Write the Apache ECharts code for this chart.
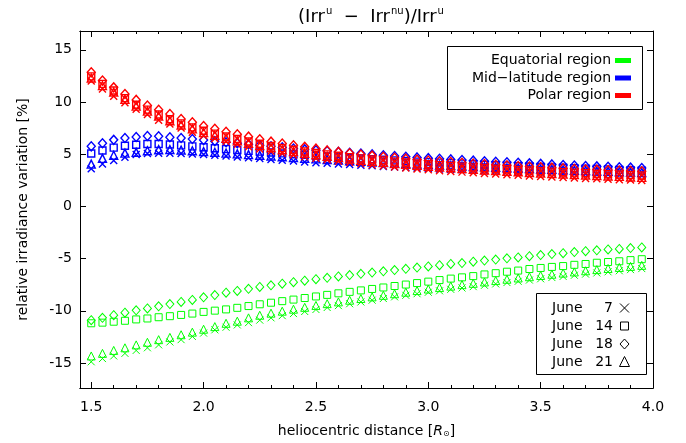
<!DOCTYPE html>
<html><head><meta charset="utf-8">
<script src="https://cdn.jsdelivr.net/npm/echarts@6/dist/echarts.min.js"></script>
<style>html,body{margin:0;padding:0;background:#fff}#c{width:686px;height:443px}</style>
</head><body><div id="c"></div>
<script>
// heliocentric distance [R_sun]
const xs = [1.50,1.55,1.60,1.65,1.70,1.75,1.80,1.85,1.90,1.95,2.00,2.05,2.10,2.15,2.20,2.25,2.30,2.35,2.40,2.45,2.50,2.55,2.60,2.65,2.70,2.75,2.80,2.85,2.90,2.95,3.00,3.05,3.10,3.15,3.20,3.25,3.30,3.35,3.40,3.45,3.50,3.55,3.60,3.65,3.70,3.75,3.80,3.85,3.90,3.95];

// Equatorial region (green)
const eqJun07 = [-14.89,-14.58,-14.33,-14.08,-13.80,-13.55,-13.27,-12.99,-12.77,-12.46,-12.14,-11.83,-11.58,-11.36,-11.14,-10.90,-10.68,-10.47,-10.27,-10.07,-9.88,-9.69,-9.51,-9.33,-9.16,-8.99,-8.83,-8.67,-8.52,-8.37,-8.23,-8.09,-7.95,-7.82,-7.69,-7.56,-7.43,-7.30,-7.18,-7.06,-6.94,-6.82,-6.71,-6.60,-6.49,-6.38,-6.27,-6.17,-6.06,-5.96];
const eqJun14 = [-11.20,-11.14,-11.05,-10.96,-10.83,-10.74,-10.62,-10.52,-10.40,-10.27,-10.11,-9.99,-9.87,-9.72,-9.55,-9.38,-9.23,-9.08,-8.93,-8.78,-8.63,-8.48,-8.33,-8.19,-8.05,-7.91,-7.77,-7.63,-7.49,-7.35,-7.21,-7.06,-6.92,-6.80,-6.68,-6.52,-6.40,-6.26,-6.15,-6.00,-5.90,-5.80,-5.72,-5.60,-5.52,-5.40,-5.33,-5.26,-5.15,-5.06];
const eqJun18 = [-10.90,-10.68,-10.43,-10.18,-9.96,-9.78,-9.58,-9.36,-9.15,-8.96,-8.71,-8.50,-8.27,-8.10,-7.90,-7.72,-7.56,-7.41,-7.26,-7.12,-6.98,-6.84,-6.71,-6.58,-6.46,-6.34,-6.22,-6.10,-5.98,-5.86,-5.75,-5.64,-5.52,-5.43,-5.30,-5.19,-5.09,-4.98,-4.89,-4.77,-4.67,-4.57,-4.49,-4.38,-4.29,-4.21,-4.13,-4.08,-4.00,-3.93];
const eqJun21 = [-14.33,-14.08,-13.80,-13.55,-13.27,-13.02,-12.77,-12.55,-12.30,-12.05,-11.77,-11.52,-11.20,-11.00,-10.68,-10.43,-10.23,-10.04,-9.85,-9.67,-9.49,-9.32,-9.15,-8.99,-8.83,-8.67,-8.52,-8.37,-8.22,-8.07,-7.92,-7.78,-7.64,-7.50,-7.37,-7.24,-7.11,-6.98,-6.86,-6.74,-6.62,-6.50,-6.39,-6.28,-6.17,-6.06,-5.95,-5.85,-5.75,-5.65];

// Mid-latitude region (blue)
const midJun07 = [3.60,4.05,4.40,4.70,4.98,5.07,5.10,5.10,5.07,5.02,4.98,4.90,4.82,4.74,4.66,4.58,4.50,4.42,4.34,4.26,4.19,4.12,4.06,4.00,3.94,3.88,3.83,3.78,3.73,3.68,3.63,3.58,3.54,3.50,3.46,3.42,3.38,3.34,3.30,3.26,3.22,3.19,3.16,3.13,3.10,3.07,3.04,3.01,2.98,2.95];
const midJun14 = [5.07,5.35,5.63,5.80,5.90,5.98,5.97,5.92,5.84,5.75,5.66,5.57,5.48,5.40,5.32,5.24,5.16,5.08,5.00,4.93,4.86,4.79,4.72,4.65,4.59,4.53,4.47,4.41,4.35,4.29,4.24,4.19,4.14,4.09,4.04,3.99,3.94,3.90,3.86,3.82,3.78,3.74,3.70,3.66,3.62,3.58,3.54,3.50,3.46,3.42];
const midJun18 = [5.75,6.05,6.37,6.55,6.65,6.74,6.72,6.62,6.55,6.45,6.35,6.25,6.15,6.05,5.95,5.85,5.75,5.65,5.55,5.46,5.38,5.30,5.22,5.14,5.06,4.98,4.90,4.83,4.76,4.69,4.62,4.56,4.50,4.44,4.38,4.32,4.27,4.22,4.17,4.12,4.07,4.02,3.97,3.92,3.87,3.83,3.79,3.75,3.71,3.67];
const midJun21 = [4.05,4.60,4.90,5.10,5.17,5.33,5.43,5.44,5.40,5.33,5.25,5.18,5.10,5.03,4.96,4.89,4.82,4.75,4.68,4.61,4.55,4.49,4.43,4.37,4.31,4.25,4.20,4.15,4.10,4.05,4.00,3.95,3.90,3.86,3.82,3.78,3.74,3.70,3.66,3.62,3.58,3.54,3.50,3.46,3.42,3.38,3.35,3.32,3.28,3.25];

// Polar region (red)
const polJun07 = [12.00,11.25,10.55,9.93,9.30,8.80,8.26,7.88,7.50,7.10,6.80,6.50,6.22,5.96,5.72,5.50,5.29,5.10,4.92,4.76,4.61,4.46,4.33,4.20,4.08,3.97,3.86,3.76,3.67,3.58,3.50,3.42,3.35,3.28,3.21,3.15,3.09,3.03,2.97,2.92,2.87,2.82,2.77,2.72,2.68,2.64,2.60,2.56,2.52,2.48];
const polJun14 = [12.45,11.73,11.10,10.37,9.73,9.27,8.80,8.35,7.95,7.57,7.25,6.97,6.70,6.45,6.22,6.00,5.79,5.60,5.43,5.27,5.12,4.98,4.85,4.72,4.60,4.49,4.39,4.29,4.20,4.11,4.03,3.95,3.88,3.81,3.74,3.67,3.61,3.55,3.49,3.43,3.38,3.33,3.28,3.23,3.18,3.13,3.09,3.05,3.00,2.96];
const polJun18 = [12.84,12.05,11.40,10.77,10.20,9.67,9.25,8.84,8.37,8.05,7.70,7.44,7.15,6.90,6.68,6.43,6.20,6.02,5.86,5.70,5.53,5.36,5.22,5.09,4.97,4.86,4.76,4.66,4.57,4.48,4.40,4.32,4.25,4.18,4.11,4.05,3.99,3.93,3.87,3.81,3.76,3.71,3.66,3.61,3.56,3.52,3.48,3.44,3.40,3.36];
const polJun21 = [12.30,11.57,10.95,10.25,9.60,9.12,8.65,8.20,7.80,7.42,7.08,6.80,6.53,6.28,6.05,5.83,5.62,5.43,5.25,5.09,4.94,4.80,4.67,4.54,4.42,4.31,4.21,4.11,4.02,3.93,3.85,3.77,3.70,3.63,3.56,3.49,3.43,3.37,3.31,3.25,3.20,3.15,3.10,3.05,3.00,2.95,2.91,2.87,2.82,2.78];

const xMajorTicks = [1.5,2.0,2.5,3.0,3.5,4.0];
const xMinorTicks = [1.5,1.6,1.7,1.8,1.9,2.0,2.1,2.2,2.3,2.4,2.5,2.6,2.7,2.8,2.9,3.0,3.1,3.2,3.3,3.4,3.5,3.6,3.7,3.8,3.9,4.0];
const yTicks = [-15,-10,-5,0,5,10,15];

const regionNames = ['Equatorial region','Mid\u2212latitude region','Polar region'];
const regionColors = ['#00ff00','#0000ff','#ff0000'];
const regionLineWidths = [1,1.4,1.4];
const dateNums = ['7','14','18','21'];

const FONT = 'DejaVu Sans';
const CROSS = 'path://M0,0L10,10M10,0L0,10';
const dateSymbols = [CROSS,'rect','diamond','triangle'];
const dateSizes = [[7,7],[7,7],[8,9],[8,8]];

const groups = [
  [eqJun07,eqJun14,eqJun18,eqJun21],
  [midJun07,midJun14,midJun18,midJun21],
  [polJun07,polJun14,polJun18,polJun21]
];

const series = [];
groups.forEach((g,ri)=>{
  g.forEach((arr,di)=>{
    series.push({
      type:'scatter', name: regionNames[ri]+' June '+dateNums[di],
      xAxisIndex:0, yAxisIndex:0,
      data: xs.map((x,i)=>[x,arr[i]]),
      symbol: dateSymbols[di], symbolSize: dateSizes[di],
      itemStyle:{color:'none', borderColor: regionColors[ri], borderWidth: regionLineWidths[ri], opacity:1},
      emphasis:{disabled:true}, silent:true
    });
  });
});

const axisLineBlack = {show:true, onZero:false, lineStyle:{color:'#000', width:1}};
function xAx(pos, ticks, len, labels){
  return {type:'value', min:1.45, max:4.0, position:pos, gridIndex:0,
    axisLine: axisLineBlack,
    axisTick:{show:true, inside:true, length:len, customValues:ticks, lineStyle:{color:'#000',width:1}},
    axisLabel: labels ? {show:true, customValues:xMajorTicks, formatter:v=>Number(v).toFixed(1), margin:12, color:'#000', fontFamily:FONT, fontSize:14} : {show:false},
    splitLine:{show:false}};
}
function yAx(pos, labels){
  return {type:'value', min:-17.4, max:16.8, position:pos, gridIndex:0,
    axisLine: axisLineBlack,
    axisTick:{show:true, inside:true, length:6, customValues:yTicks, lineStyle:{color:'#000',width:1}},
    axisLabel: labels ? {show:true, customValues:yTicks, margin:8, color:'#000', fontFamily:FONT, fontSize:14} : {show:false},
    splitLine:{show:false}};
}

const xA0 = xAx('bottom', xMajorTicks, 6, true);
xA0.name = 'heliocentric distance [{it|R}{sub|\u2299}]';
xA0.nameLocation = 'middle';
xA0.nameGap = 36;
xA0.nameTextStyle = {color:'#000', fontFamily:FONT, fontSize:14,
  rich:{it:{fontStyle:'italic', fontFamily:FONT, fontSize:14, color:'#000'}, sub:{fontSize:8, fontFamily:FONT, color:'#000', padding:[6,0,0,0]}}};

const yA0 = yAx('left', true);
yA0.name = 'relative irradiance variation [%]';
yA0.nameLocation = 'middle';
yA0.nameGap = 50;
yA0.nameTextStyle = {color:'#000', fontFamily:FONT, fontSize:14};

const legendItems = [];
// region legend box
legendItems.push({type:'rect', shape:{x:447.5,y:46.5,width:195,height:63}, style:{fill:'#fff', stroke:'#000', lineWidth:1}, z:100});
regionNames.forEach((n,i)=>{
  const cy = 60.5 + i*17.5;
  legendItems.push({type:'text', x:611, y:cy, style:{text:n, fill:'#000', font:'14px "'+FONT+'"', textAlign:'right', textVerticalAlign:'middle'}, z:101});
  legendItems.push({type:'rect', shape:{x:615,y:cy-2.5,width:16,height:5}, style:{fill:regionColors[i]}, z:101});
});
// date legend box
legendItems.push({type:'rect', shape:{x:536.5,y:293.5,width:110,height:81}, style:{fill:'#fff', stroke:'#000', lineWidth:1}, z:100});
dateNums.forEach((n,i)=>{
  const cy = 308 + i*18;
  legendItems.push({type:'text', x:552, y:cy, style:{text:'June', fill:'#000', font:'14px "'+FONT+'"', textAlign:'left', textVerticalAlign:'middle'}, z:101});
  legendItems.push({type:'text', x:613, y:cy, style:{text:n, fill:'#000', font:'14px "'+FONT+'"', textAlign:'right', textVerticalAlign:'middle'}, z:101});
});
const sx = 624.5;
legendItems.push({type:'polyline', shape:{points:[[sx-4.5,308-4.5],[sx+4.5,308+4.5]]}, style:{stroke:'#000',lineWidth:1,fill:null}, z:101});
legendItems.push({type:'polyline', shape:{points:[[sx+4.5,308-4.5],[sx-4.5,308+4.5]]}, style:{stroke:'#000',lineWidth:1,fill:null}, z:101});
legendItems.push({type:'rect', shape:{x:sx-4,y:326-4,width:8,height:8}, style:{stroke:'#000',lineWidth:1,fill:null}, z:101});
legendItems.push({type:'polygon', shape:{points:[[sx,344-5],[sx+4.5,344],[sx,344+5],[sx-4.5,344]]}, style:{stroke:'#000',lineWidth:1,fill:null}, z:101});
legendItems.push({type:'polygon', shape:{points:[[sx,362-5.5],[sx+5,362+4.5],[sx-5,362+4.5]]}, style:{stroke:'#000',lineWidth:1,fill:null}, z:101});

const chart = echarts.init(document.getElementById('c'), null, {renderer:'canvas'});
chart.setOption({
  animation:false,
  backgroundColor:'#fff',
  title:{
    text:'(Irr{sup|u}  \u2212  Irr{sup|nu})/Irr{sup|u}',
    left:366, top:1, textAlign:'center',
    textStyle:{color:'#000', fontFamily:FONT, fontSize:18, fontWeight:'normal',
      rich:{sup:{fontSize:10, fontFamily:FONT, color:'#000', verticalAlign:'top', lineHeight:22, padding:[0,0,0,1]}}}
  },
  grid:{left:80, right:33, top:31, bottom:47, containLabel:false},
  xAxis:[xA0, xAx('bottom', xMinorTicks, 3, false), xAx('top', xMajorTicks, 6, false), xAx('top', xMinorTicks, 3, false)],
  yAxis:[yA0, yAx('right', false)],
  series: series,
  graphic: legendItems
});
</script></body></html>
